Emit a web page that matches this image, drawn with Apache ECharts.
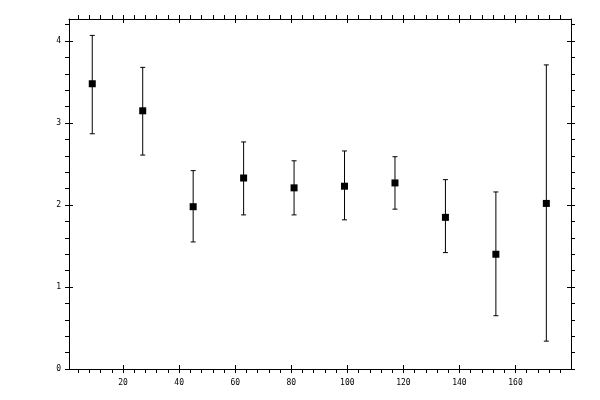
<!DOCTYPE html>
<html>
<head>
<meta charset="utf-8">
<script src="https://cdn.jsdelivr.net/npm/echarts@6/dist/echarts.min.js"></script>
<style>
    html, body { margin: 0; padding: 0; background: #fff; }
    #chart { width: 600px; height: 400px; }
</style>
</head>
<body>
<div id="chart"></div>
<script>
//bin centres and measured values (mean with lower / upper error)
const xs = [9, 27, 45, 63, 81, 99, 117, 135, 153, 171];
const means = [3.48, 3.15, 1.98, 2.33, 2.21, 2.23, 2.27, 1.85, 1.40, 2.02];
const lows = [2.87, 2.61, 1.55, 1.88, 1.88, 1.82, 1.95, 1.42, 0.65, 0.34];
const highs = [4.07, 3.68, 2.42, 2.77, 2.54, 2.66, 2.59, 2.31, 2.16, 3.71];

//axis ranges and tick values
const xRange = [0.7, 179.8];
const yRange = [0, 4.27];
const xMajor = [20, 40, 60, 80, 100, 120, 140, 160];
const xMinor = [4, 8, 12, 16, 24, 28, 32, 36, 44, 48, 52, 56, 64, 68, 72, 76, 84, 88, 92, 96,
    104, 108, 112, 116, 124, 128, 132, 136, 144, 148, 152, 156, 164, 168, 172, 176];
const yMajor = [0, 1, 2, 3, 4];
const yMinor = [0.2, 0.4, 0.6, 0.8, 1.2, 1.4, 1.6, 1.8, 2.2, 2.4, 2.6, 2.8,
    3.2, 3.4, 3.6, 3.8, 4.2];

const black = "#000";
const font = { color: black, fontFamily: "DejaVu Sans Mono", fontSize: 8 };

//one axis: outward ticks (major + minor) or inward major ticks only
function axis(kind, position, range, major, minor, inside, labels) {
    return {
        type: "value",
        position: position,
        min: range[0],
        max: range[1],
        splitLine: { show: false },
        axisLine: { show: !inside, onZero: false, lineStyle: { color: black, width: 1 } },
        axisTick: {
            show: true,
            inside: inside,
            length: 4,
            customValues: inside ? major : major.concat(minor),
            lineStyle: { color: black, width: 1 }
        },
        axisLabel: Object.assign({
            show: labels,
            customValues: major,
            margin: kind === "x" ? 10 : 8
        }, font)
    };
}

const chart = echarts.init(document.getElementById("chart"));

const option = {
    animation: false,
    backgroundColor: "#fff",
    grid: { left: 69, right: 29, top: 19, bottom: 31 },
    xAxis: [
        axis("x", "bottom", xRange, xMajor, xMinor, false, true),
        axis("x", "bottom", xRange, xMajor, xMinor, true, false),
        axis("x", "top", xRange, xMajor, xMinor, false, false),
        axis("x", "top", xRange, xMajor, xMinor, true, false)
    ],
    yAxis: [
        axis("y", "left", yRange, yMajor, yMinor, false, true),
        axis("y", "left", yRange, yMajor, yMinor, true, false),
        axis("y", "right", yRange, yMajor, yMinor, false, false),
        axis("y", "right", yRange, yMajor, yMinor, true, false)
    ],
    series: [
        {
            type: "custom",
            xAxisIndex: 0,
            yAxisIndex: 0,
            data: xs.map((x, i) => [x, lows[i], highs[i]]),
            renderItem: (params, api) => {
                const lo = api.coord([api.value(0), api.value(1)]);
                const hi = api.coord([api.value(0), api.value(2)]);
                const cap = 2.5;
                const style = { stroke: black, lineWidth: 1 };
                return {
                    type: "group",
                    children: [
                        { type: "line", shape: { x1: lo[0], y1: lo[1], x2: hi[0], y2: hi[1] }, style: style },
                        { type: "line", shape: { x1: lo[0] - cap, y1: lo[1], x2: lo[0] + cap, y2: lo[1] }, style: style },
                        { type: "line", shape: { x1: hi[0] - cap, y1: hi[1], x2: hi[0] + cap, y2: hi[1] }, style: style }
                    ]
                };
            },
            z: 2
        },
        {
            type: "scatter",
            xAxisIndex: 0,
            yAxisIndex: 0,
            symbol: "rect",
            symbolSize: 7,
            itemStyle: { color: black, opacity: 1 },
            data: xs.map((x, i) => [x, means[i]]),
            z: 3
        }
    ]
};

chart.setOption(option);
</script>
</body>
</html>
